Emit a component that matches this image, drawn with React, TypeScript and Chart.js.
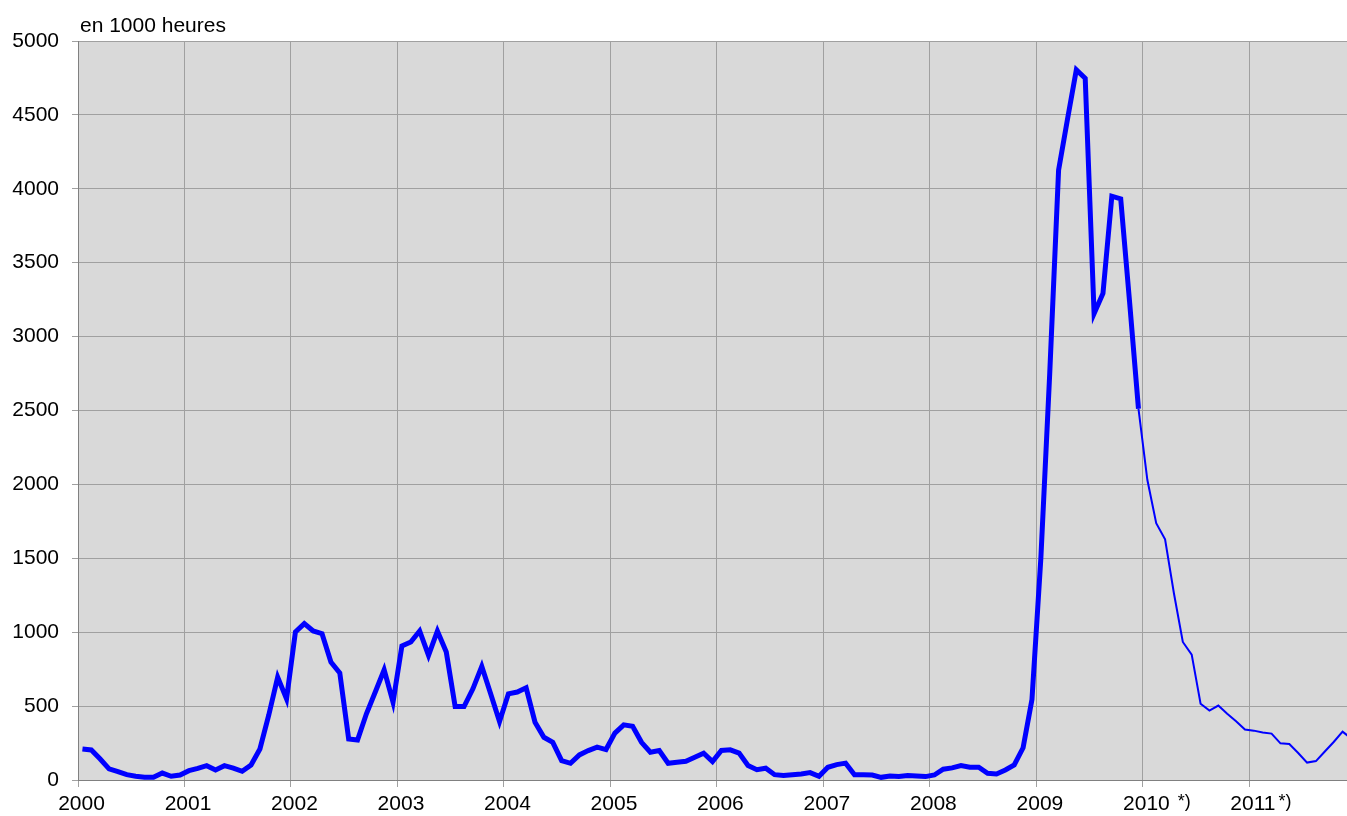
import React, { useEffect, useRef } from "react";
import { Chart, registerables } from "chart.js";

Chart.register(...registerables);

const FONT = "'Liberation Sans', Arial, Helvetica, sans-serif";

const unitLabel = "en 1000 heures";

const yearLabels = ["2000", "2001", "2002", "2003", "2004", "2005", "2006", "2007", "2008", "2009", "2010", "2011"];
const yearTickMonths = [0, 12, 24, 36, 48, 60, 72, 84, 96, 108, 120, 132];
const footnoteMarks = ["", "", "", "", "", "", "", "", "", "", " *)", "*)"];

const yTicks = [0, 500, 1000, 1500, 2000, 2500, 3000, 3500, 4000, 4500, 5000];

// Monthly values Jan 2000 – Dec 2009 (thick line)
const actualValues = [
  210, 203, 142, 75, 57, 36, 25, 18, 18, 47, 25, 34,
  63, 79, 97, 68, 97, 81, 59, 102, 210, 440, 696, 549,
  1002, 1058, 1008, 990, 798, 724, 278, 271, 448, 595, 746, 527,
  907, 934, 1008, 843, 1008, 866, 497, 497, 617, 769, 583, 396,
  583, 595, 624, 391, 289, 255, 131, 113, 170, 199, 222, 206,
  317, 373, 364, 255, 188, 199, 113, 120, 127, 154, 181, 124,
  200, 204, 182, 98, 70, 80, 36, 30, 36, 41, 50, 25,
  86, 104, 114, 36, 36, 34, 18, 27, 23, 30, 27, 23,
  34, 73, 82, 98, 86, 86, 45, 41, 68, 102, 218, 545,
  1500, 2750, 4127, 4470, 4805, 4748, 3156, 3292, 3950, 3932, 3235, 2512,
];

// Monthly values Dec 2009 – Dec 2011 (thin line, provisional)
const forecastStartIndex = 119;
const forecastValues = [
  2512,
  2031, 1737, 1629, 1262, 934, 848, 516, 470, 504, 448, 398, 342,
  334, 322, 314, 248, 243, 183, 118, 128, 193, 257, 327, 280,
];

export default function App() {
  const ref = useRef<HTMLCanvasElement>(null);

  useEffect(() => {
    document.body.style.margin = "0";
    const canvas = ref.current;
    if (!canvas) return;

    const thick = actualValues.map((v, i) => ({ x: i + 0.5, y: v }));
    const thin = forecastValues.map((v, i) => ({ x: forecastStartIndex + i + 0.5, y: v }));
    const LABEL_SHIFT = 3.5;

    const decor = {
      id: "decor",
      beforeDraw(chart: any) {
        const { ctx, chartArea: a } = chart;
        ctx.save();
        ctx.fillStyle = "#d9d9d9";
        ctx.fillRect(a.left, a.top, a.right - a.left, a.bottom - a.top);
        ctx.restore();
      },
      afterDraw(chart: any) {
        const { ctx, chartArea: a } = chart;
        ctx.save();
        ctx.fillStyle = "#000";
        ctx.textAlign = "left";
        ctx.textBaseline = "alphabetic";
        ctx.font = `21px ${FONT}`;
        ctx.fillText(unitLabel, a.left + 2, 31.5);
        const xs = chart.scales.x;
        yearTickMonths.forEach((m, k) => {
          const mark = footnoteMarks[k];
          if (!mark) return;
          ctx.font = `21px ${FONT}`;
          const w = ctx.measureText(yearLabels[k]).width;
          const px = xs.getPixelForValue(m) + LABEL_SHIFT + w / 2 + 3;
          ctx.font = `18px ${FONT}`;
          ctx.fillText(mark, px, 807);
        });
        ctx.restore();
      },
    };

    const chart = new Chart(canvas, {
      type: "line",
      data: {
        datasets: [
          {
            data: thick,
            borderColor: "#0000ff",
            borderWidth: 5,
            pointRadius: 0,
            tension: 0,
            fill: false,
          },
          {
            data: thin,
            borderColor: "#0000ff",
            borderWidth: 2,
            pointRadius: 0,
            tension: 0,
            fill: false,
          },
        ],
      },
      options: {
        animation: false,
        responsive: false,
        maintainAspectRatio: false,
        layout: { padding: { top: 41, left: 0, right: 0, bottom: 0 } },
        plugins: { legend: { display: false }, tooltip: { enabled: false }, title: { display: false } },
        scales: {
          x: {
            type: "linear",
            min: 0,
            max: 143,
            afterBuildTicks: (s: any) => {
              s.ticks = yearTickMonths.map((v) => ({ value: v }));
            },
            afterFit: (s: any) => {
              s.height = 36;
            },
            ticks: {
              callback: (_v: any, i: number) => yearLabels[i] ?? "",
              font: { size: 21, family: FONT },
              color: "#000",
              padding: 5,
              labelOffset: LABEL_SHIFT,
              maxRotation: 0,
              autoSkip: false,
            },
            grid: { color: "#a0a0a0", tickLength: 7 },
            border: { color: "#808080" },
          },
          y: {
            min: 0,
            max: 5000,
            afterBuildTicks: (s: any) => {
              s.ticks = yTicks.map((v) => ({ value: v }));
            },
            afterFit: (s: any) => {
              s.width = 78;
            },
            ticks: {
              callback: (v: any) => String(v),
              font: { size: 21, family: FONT },
              color: "#000",
              padding: 13,
            },
            grid: { color: "#a0a0a0", tickLength: 6 },
            border: { color: "#808080" },
          },
        },
      },
      plugins: [decor],
    });

    return () => chart.destroy();
  }, []);

  return (
    <div style={{ position: "absolute", left: 0, top: 0, width: 1347, height: 816 }}>
      <canvas ref={ref} width={1347} height={816} style={{ display: "block" }} />
    </div>
  );
}
